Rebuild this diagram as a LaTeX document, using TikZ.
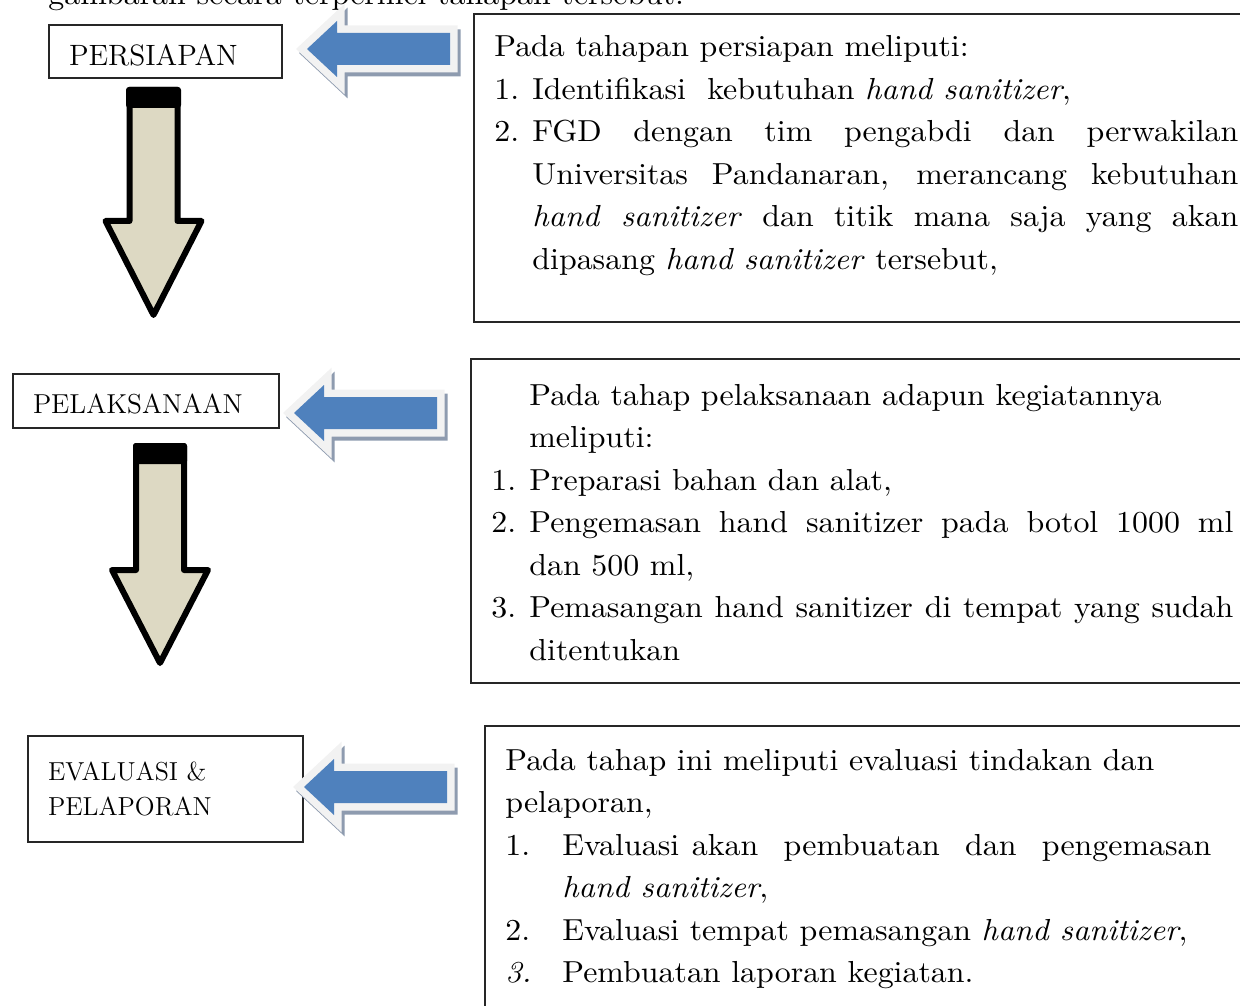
\documentclass[tikz,border=0pt]{standalone}
\usepackage{fontspec}
\usepackage{tikz}
\usetikzlibrary{positioning}
\usepackage{xcolor}

\newfontfamily\panelfont{lmroman10-regular.otf}[FakeStretch=1.05, ItalicFont=lmroman10-italic.otf]
\hyphenpenalty=10000
\exhyphenpenalty=10000

\definecolor{arrowblue}{HTML}{4F81BD}
\definecolor{arrowrim}{HTML}{F2F2F2}
\definecolor{arrowshade}{HTML}{8E9BAF}
\definecolor{arrowtan}{HTML}{DDD9C3}

\newcommand{\stageitem}[2]{\par\noindent\hangindent=#1\hangafter=1\makebox[#1][l]{#2}}

\begin{document}
\begin{tikzpicture}[x=0.5pt, y=-0.5pt,
    stagebox/.style={draw=black!85, line width=1pt, anchor=north west, align=left, inner xsep=10pt, inner ysep=0pt},
    panel/.style={draw=black!85, line width=1pt, anchor=north west, inner sep=0pt, minimum width=420pt},
    paneltext/.style={anchor=base west, inner sep=0pt, align=justify, font=\panelfont\fontsize{15.2}{21.25}\selectfont},
    tanshape/.style={draw=black, line width=3pt, line join=round, fill=arrowtan},
    shadeshape/.style={draw=arrowshade, fill=arrowshade, line width=7.5pt},
    rimshape/.style={draw=arrowrim, line width=7.5pt},
    blueshape/.style={fill=arrowblue},
    bluearrow/.pic={
        \path[shadeshape, shift={(3,4)}] (0,0) -- (30,-28) -- (30,-16) -- (143,-16) -- (143,16) -- (30,16) -- (30,28) -- cycle;
        \path[rimshape] (0,0) -- (30,-28) -- (30,-16) -- (143,-16) -- (143,16) -- (30,16) -- (30,28) -- cycle;
        \path[blueshape] (0,0) -- (30,-28) -- (30,-16) -- (143,-16) -- (143,16) -- (30,16) -- (30,28) -- cycle;
    }]

    \useasboundingbox (0,0) rectangle (1240,1005);
    \clip (0,0) rectangle (1240,1005);

    % Last line of the running text, cut off at the top
    \node[paneltext] (intro) at (48,5) {gambaran secara terperinci tahapan tersebut.};

    % Stage boxes
    \node[stagebox, text width=96.5pt, minimum height=26.5pt, text height=14.5pt, text depth=0pt, font=\fontsize{14.7}{17}\selectfont] (prep) at (48,24) {PERSIAPAN};
    \node[stagebox, text width=113pt, minimum height=27pt, text height=12pt, text depth=0pt, font=\fontsize{13.7}{16}\selectfont] (exec) at (12,373) {PELAKSANAAN};
    \node[stagebox, text width=117.5pt, minimum height=53pt, font=\fontsize{13}{17.5}\selectfont] (eval) at (27,735) {EVALUASI \&\\PELAPORAN};

    % Down arrows between the stages
    \draw[tanshape] (129.5,90) -- (129.5,221) -- (105.5,221) -- (153.5,315) -- (201.5,221) -- (177.5,221) -- (177.5,90) -- cycle;
    \fill[black, rounded corners=1.5pt] (126,87) rectangle (181,108);

    \draw[tanshape] (136,446) -- (136,570) -- (112,570) -- (160,663) -- (208,570) -- (184,570) -- (184,446) -- cycle;
    \fill[black, rounded corners=1.5pt] (133,443) rectangle (187,464);

    % Blue arrows from the panels to the stages
    \pic at (307,49) {bluearrow};
    \pic at (294,413) {bluearrow};
    \pic at (304,787) {bluearrow};

    % Description panels
    \node[panel, minimum height=154pt] (prepbox) at (473,13) {};
    \node[panel, minimum height=162pt] (execbox) at (470,358) {};
    \node[panel, minimum height=200pt] (evalbox) at (484,725) {};

    \node[paneltext, text width=372pt] (preptext) at (494,57) {Pada tahapan persiapan meliputi:
        \stageitem{19pt}{1.}Identifikasi~ kebutuhan \textit{hand sanitizer},
        \stageitem{19pt}{2.}FGD dengan tim pengabdi dan perwakilan\linebreak
        Universitas Pandanaran, merancang kebutuhan\linebreak
        \textit{hand sanitizer} dan titik mana saja yang akan\linebreak
        dipasang \textit{hand sanitizer} tersebut,\par};

    \node[paneltext, text width=371pt] (exectext) at (491,405) {\hangindent=19pt\hangafter=0
        Pada tahap pelaksanaan adapun kegiatannya\newline meliputi:
        \stageitem{19pt}{1.}Preparasi bahan dan alat,
        \stageitem{19pt}{2.}Pengemasan hand sanitizer pada botol 1000 ml\linebreak
        dan 500 ml,
        \stageitem{19pt}{3.}Pemasangan hand sanitizer di tempat yang sudah\linebreak
        ditentukan\par};

    \node[paneltext, text width=353pt] (evaltext) at (505,770) {Pada tahap ini meliputi evaluasi tindakan dan\newline pelaporan,
        \stageitem{28.5pt}{1.}Evaluasi akan~ pembuatan~ dan~ pengemasan\linebreak
        \textit{hand sanitizer},
        \stageitem{28.5pt}{2.}Evaluasi tempat pemasangan \textit{hand sanitizer},
        \stageitem{28.5pt}{\textit{3.}}Pembuatan laporan kegiatan.\par};
\end{tikzpicture}
\end{document}
